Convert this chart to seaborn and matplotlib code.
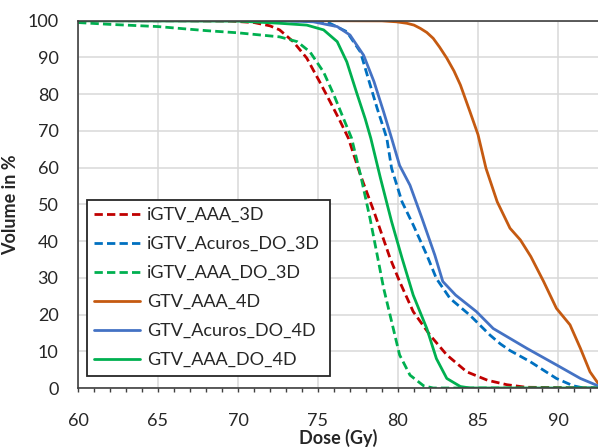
import matplotlib
matplotlib.use("Agg")
import matplotlib.pyplot as plt
import seaborn as sns
import pandas as pd
from matplotlib.ticker import MultipleLocator

# ---- data ----
series_names = ["iGTV_AAA_3D", "iGTV_Acuros_DO_3D", "iGTV_AAA_DO_3D",
                "GTV_AAA_4D", "GTV_Acuros_DO_4D", "GTV_AAA_DO_4D"]

igtv_aaa_3d_dose = [60, 66, 69.5, 71, 72, 72.6, 73.45, 74.3, 75.1, 75.75, 76.4, 76.9, 77.65, 78.5,
                    79.5, 80.1, 80.95, 82, 83.05, 84.3, 85.6, 86.8, 88, 92.5]
igtv_aaa_3d_vol = [100, 100, 99.9, 99.5, 98.6, 97.5, 94.3, 89.8, 83.4, 78, 72.5, 68, 58, 48,
                   35.4, 29, 20.8, 14.4, 9, 4.4, 2.1, 0.9, 0.2, 0]

igtv_acuros_3d_dose = [60, 70, 74, 75.55, 76.8, 77.65, 78.2, 78.7, 79.3, 79.6, 80.25, 80.95, 81.8,
                       82.4, 83.25, 84.5, 85.75, 86.4, 87.0, 88.25, 89.9, 90.95, 91.6, 92.5]
igtv_acuros_3d_vol = [100, 100, 99.95, 99.7, 97, 91.5, 83.4, 76.1, 68, 59.8, 50.7, 44.4, 36.2,
                      29.8, 24.4, 19.8, 14.4, 12, 10.2, 7.2, 2.6, 0.6, 0, 0]

igtv_aaa_do_3d_dose = [60, 62, 65, 68, 70, 72.6, 73.7, 74.5, 75.35, 76, 76.6, 77.1, 77.7, 78.25,
                       78.7, 79.1, 79.6, 80.1, 80.75, 81.6, 82.2, 92.5]
igtv_aaa_do_3d_vol = [99.5, 99, 98.4, 97.3, 96.7, 95.6, 94.3, 91.5, 86, 79.7, 73.3, 68, 57.2, 46.2,
                      36.2, 27.2, 18.1, 9, 3.5, 0.6, 0, 0]

gtv_aaa_4d_dose = [60, 75, 79, 79.9, 80.55, 81.0, 81.4, 81.8, 82.2, 82.6, 83.05, 83.5, 83.9, 84.5,
                   85.0, 85.5, 86.2, 87.0, 87.65, 88.3, 89.1, 89.9, 90.75, 91.4, 92.0, 92.5]
gtv_aaa_4d_vol = [100, 100, 99.95, 99.7, 99.3, 98.8, 97.9, 96.8, 95.2, 92.8, 89.8, 86.3, 82.5, 75.2,
                  69, 59.8, 50.7, 43.5, 40.3, 35.8, 29, 21.7, 17.2, 10.8, 4.4, 1.3]

gtv_acuros_4d_dose = [60, 70, 73, 74.7, 76.2, 77.0, 77.85, 78.5, 79.1, 79.6, 80.1, 80.75, 81.5,
                      82.3, 82.8, 83.6, 84.9, 85.95, 87.0, 88.05, 89.9, 91.4, 92.5]
gtv_acuros_4d_vol = [100, 100, 99.95, 99.7, 98.4, 96.1, 90.6, 83.4, 75.2, 68, 60.6, 55.2, 46.2,
                     36.2, 29, 25.3, 20.8, 16.2, 13.5, 10.8, 6.3, 2.6, 0.6]

gtv_aaa_do_4d_dose = [60, 70, 72.6, 74.3, 75.35, 76.2, 76.8, 77.4, 77.95, 78.3, 78.9, 79.6, 80.25,
                      80.95, 81.8, 82.4, 83.05, 83.9, 84.5, 92.5]
gtv_aaa_do_4d_vol = [100, 99.9, 99.3, 98.8, 97.5, 94.3, 88.8, 80.6, 73.3, 68, 57.2, 45.3, 35.4,
                     25.3, 16.2, 8, 2.6, 0.4, 0, 0]

doses = [igtv_aaa_3d_dose, igtv_acuros_3d_dose, igtv_aaa_do_3d_dose,
         gtv_aaa_4d_dose, gtv_acuros_4d_dose, gtv_aaa_do_4d_dose]
vols = [igtv_aaa_3d_vol, igtv_acuros_3d_vol, igtv_aaa_do_3d_vol,
        gtv_aaa_4d_vol, gtv_acuros_4d_vol, gtv_aaa_do_4d_vol]

colors = ["#C00000", "#0070C0", "#00B050", "#C55A11", "#4472C4", "#00B050"]
dashed = [True, True, True, False, False, False]

x_ticks = [60, 65, 70, 75, 80, 85, 90]
y_ticks = [0, 10, 20, 30, 40, 50, 60, 70, 80, 90, 100]

# ---- style ----
sns.set_theme(style="white")
plt.rcParams["font.family"] = ["Lato", "DejaVu Sans"]

fig = plt.figure(figsize=(5.98, 4.48), dpi=100)
ax = fig.add_axes([78 / 598, 60 / 448, 520 / 598, 367.3 / 448])

for name, d, v, c, dsh in zip(series_names, doses, vols, colors, dashed):
    df = pd.DataFrame({"Dose": d, "Volume": v})
    sns.lineplot(data=df, x="Dose", y="Volume", ax=ax, color=c, linewidth=2.0,
                 sort=False, estimator=None, label=name)
    ln = ax.lines[-1]
    ln.set_solid_joinstyle("round")
    ln.set_dash_joinstyle("round")
    if dsh:
        ln.set_dashes((3, 1.5))

ax.set_xlim(60, 92.5)
ax.set_ylim(0, 100)
ax.set_xticks(x_ticks)
ax.set_yticks(y_ticks)
ax.xaxis.set_minor_locator(MultipleLocator(1))
ax.grid(True, which="major", color="#D9D9D9", linewidth=1.1)
ax.set_axisbelow(True)

for side in ["left", "bottom", "top"]:
    ax.spines[side].set_visible(True)
    ax.spines[side].set_color("#404040")
    ax.spines[side].set_linewidth(1.2)
ax.spines["right"].set_visible(False)

ax.tick_params(axis="x", which="both", direction="out", length=3, width=1,
               color="#404040", labelsize=13, pad=15, bottom=True)
ax.tick_params(axis="y", which="both", length=0, labelsize=13, pad=14)

ax.set_xlabel("Dose (Gy)", fontsize=13, fontweight="bold", labelpad=0)
ax.set_ylabel("Volume in %", fontsize=13, fontweight="bold", labelpad=6)

leg = ax.legend(loc="lower left", bbox_to_anchor=(0.017, 0.033, 0.467, 0.496), mode="expand",
                borderaxespad=0, fontsize=13, labelspacing=0.72, handlelength=2.55,
                handletextpad=0.35, borderpad=0.42, frameon=True, fancybox=False)
leg.get_frame().set_edgecolor("#262626")
leg.get_frame().set_linewidth(1.3)
leg.get_frame().set_facecolor("white")
leg.get_frame().set_alpha(1)

fig.savefig("out.png", dpi=100)
